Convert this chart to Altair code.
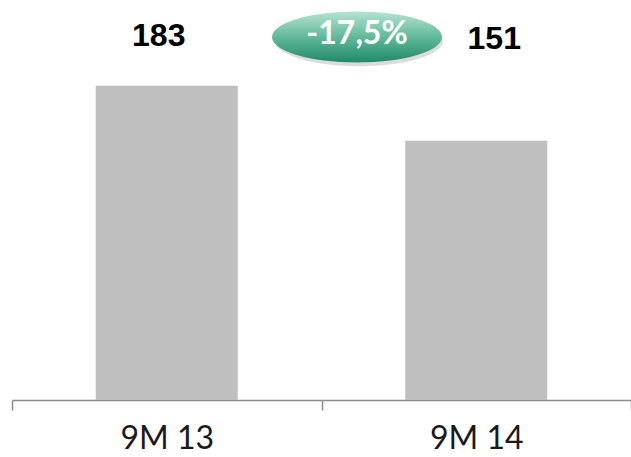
import altair as alt
import pandas as pd

# Nine-month totals for the two periods
periods = ["9M 13", "9M 14"]
totals = [183, 151]
change_label = "-17,5%"

df = pd.DataFrame({"period": periods, "total": totals})

x_enc = alt.X(
    "period:N",
    sort=periods,
    title=None,
    scale=alt.Scale(paddingInner=0, paddingOuter=0),
    axis=alt.Axis(
        labelAngle=0,
        labelFont="Lato",
        labelFontSize=32,
        labelColor="#1a1a1a",
        labelBaseline="alphabetic",
        labelPadding=38,
        domainColor="#8c8c8c",
        domainWidth=1.5,
        tickColor="#8c8c8c",
        tickWidth=1.5,
        tickSize=10,
        tickBand="extent",
        grid=False,
    ),
)
y_scale = alt.Scale(domain=[0, 233], nice=False)

bars = alt.Chart(df).mark_bar(size=142, color="#bfbfbf").encode(
    x=x_enc,
    y=alt.Y("total:Q", scale=y_scale, axis=None),
)

def value_text(name, shift, ypix):
    return alt.Chart(df).transform_filter(
        alt.datum.period == name
    ).mark_text(
        font="Liberation Sans", fontWeight="bold",
        fontSize=32, color="#000000", dx=shift, baseline="middle",
    ).encode(
        x=alt.X("period:N", sort=periods),
        y=alt.value(ypix),
        text=alt.Text("total:Q"),
    )

labels = value_text(periods[0], -8, 36) + value_text(periods[1], 18, 39)

# Green oval badge with the period-on-period change
ellipse_path = "M -1 0 A 1 0.3 0 1 1 1 0 A 1 0.3 0 1 1 -1 0 Z"
badge_df = pd.DataFrame({"label": [change_label]})

shadow = alt.Chart(badge_df).mark_point(
    shape=ellipse_path, size=168 * 168, filled=True,
    color="#8a8a8a", opacity=0.3, strokeWidth=0,
).encode(x=alt.value(347), y=alt.value(41))

badge = alt.Chart(badge_df).mark_point(
    shape=ellipse_path, size=170 * 170, filled=True, strokeWidth=0, opacity=1,
    color=alt.Gradient(
        gradient="linear",
        stops=[
            alt.GradientStop(color="#b5e3d2", offset=0),
            alt.GradientStop(color="#62b99a", offset=0.5),
            alt.GradientStop(color="#1f8a69", offset=1),
        ],
        x1=0, x2=0, y1=0, y2=1,
    ),
).encode(x=alt.value(345), y=alt.value(37))

badge_text = alt.Chart(badge_df).mark_text(
    font="Lato", fontWeight="bold", fontSize=32, color="white",
    baseline="middle",
).encode(x=alt.value(345), y=alt.value(34), text="label:N")

chart = alt.layer(bars, labels, shadow, badge, badge_text).properties(
    width=619, height=400,
    autosize=alt.AutoSizeParams(type="none"),
    padding={"left": 12, "top": 0, "right": 0, "bottom": 57},
).configure_view(stroke=None)

chart.save("out.html", embed_options={"renderer": "svg", "actions": False})
